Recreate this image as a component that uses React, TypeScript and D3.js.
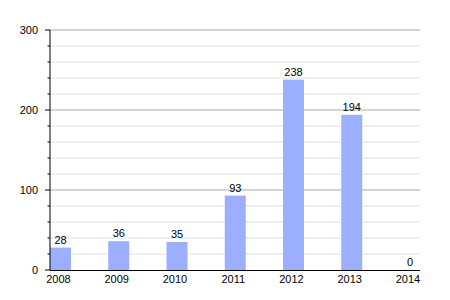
import React from "react";
import * as d3 from "d3";

const categories = ["2008", "2009", "2010", "2011", "2012", "2013", "2014"];
const values = [28, 36, 35, 93, 238, 194, 0];
const majorTicks = [0, 100, 200, 300];
const minorTicks = [20, 40, 60, 80, 120, 140, 160, 180, 220, 240, 260, 280];

export default function App() {
  const W = 450, H = 300;
  const left = 50, right = 420, top = 30, bottom = 270;
  const x = d3.scalePoint<string>().domain(categories).range([left + 10.5, right - 10]);
  const y = d3.scaleLinear().domain([0, 300]).range([bottom, top]);
  const bw = 21;
  const font = "'Liberation Sans', Arial, Helvetica, sans-serif";
  return (
    <svg width={W} height={H} style={{ position: "absolute", left: 0, top: 0 }} fontFamily={font}>
      <rect width={W} height={H} fill="#fff" />
      {minorTicks.map((t) => (
        <g key={"m" + t}>
          <line x1={left} x2={right} y1={y(t)} y2={y(t)} stroke="#e0e0e0" />
          <line x1={left - 2.5} x2={left} y1={y(t)} y2={y(t)} stroke="#000" />
        </g>
      ))}
      {majorTicks.map((t) => (
        <g key={"M" + t}>
          {t > 0 && <line x1={left} x2={right} y1={y(t)} y2={y(t)} stroke="#aaa" />}
          <line x1={left - 5} x2={left} y1={y(t)} y2={y(t)} stroke="#000" />
          <text x={38} y={y(t) + 4} fontSize={11} textAnchor="end" fill="#000">{t}</text>
        </g>
      ))}
      {categories.map((c, i) => (
        <g key={c}>
          {values[i] > 0 && (
            <rect x={(x(c) as number) - bw / 2} y={y(values[i])} width={bw} height={bottom - y(values[i])} fill="#9caeff" />
          )}
          <text x={x(c) as number} y={y(values[i]) - 4} fontSize={11} textAnchor="middle" fill="#000">{values[i]}</text>
          <text x={(x(c) as number) - 2} y={283} fontSize={11} textAnchor="middle" fill="#000">{c}</text>
        </g>
      ))}
      <line x1={left} x2={left} y1={top} y2={bottom} stroke="#000" />
      <line x1={left} x2={right} y1={bottom + 0.5} y2={bottom + 0.5} stroke="#000" />
    </svg>
  );
}
